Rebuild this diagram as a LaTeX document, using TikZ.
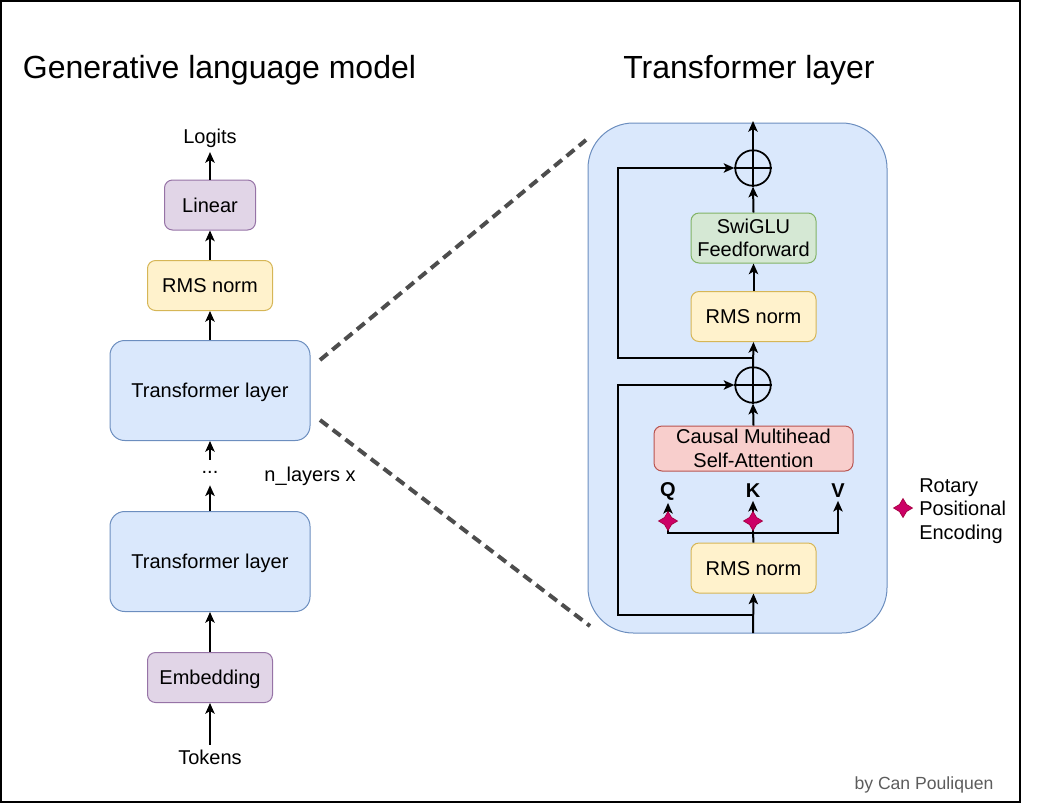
\documentclass[tikz,border=0pt]{standalone}
\usepackage{fontspec}
\setmainfont{Liberation Sans}
\usetikzlibrary{arrows.meta,shapes.geometric,calc}
\definecolor{blueF}{HTML}{DAE8FC}
\definecolor{blueS}{HTML}{6C8EBF}
\definecolor{yelF}{HTML}{FFF2CC}
\definecolor{yelS}{HTML}{D6B656}
\definecolor{purF}{HTML}{E1D5E7}
\definecolor{purS}{HTML}{9673A6}
\definecolor{grnF}{HTML}{D5E8D4}
\definecolor{grnS}{HTML}{82B366}
\definecolor{redF}{HTML}{F8CECC}
\definecolor{redS}{HTML}{B85450}
\definecolor{dashC}{HTML}{4D4D4D}
\definecolor{ropeF}{HTML}{CC0066}
\definecolor{ropeS}{HTML}{A50040}
\definecolor{authC}{HTML}{5C5C5C}
\begin{document}
\begin{tikzpicture}[x=0.75pt,y=-0.75pt,
  txt/.style={font=\fontsize{15}{17.6}\selectfont},
  ttl/.style={font=\fontsize{24}{28}\selectfont},
  box/.style={draw, line width=0.75pt, rounded corners=6pt, inner sep=0pt, align=center,
    font=\fontsize{15}{17.6}\selectfont},
  one/.style={text height=13.5pt, text depth=2.76pt},
  sz/.style 2 args={minimum width=#1*0.75pt, minimum height=#2*0.75pt},
  blu/.style={fill=blueF, draw=blueS},
  yel/.style={fill=yelF, draw=yelS},
  pur/.style={fill=purF, draw=purS},
  grn/.style={fill=grnF, draw=grnS},
  red/.style={fill=redF, draw=redS},
  arr/.style={line width=1.5pt, -{Stealth[length=8pt,width=7pt,inset=2pt]}},
  ln/.style={line width=1.5pt},
  dsh/.style={draw=dashC, line width=3pt, dash pattern=on 7.5pt off 4.5pt},
  plusnode/.style={circle, draw, line width=1.3pt, minimum size=35.5*0.75pt, inner sep=0pt},
  qkv/.style={font=\fontsize{15}{17.6}\selectfont\bfseries, inner sep=2pt},
  rope/.style={star, star points=4, star point ratio=1.9, minimum size=19*0.75pt, inner sep=0pt,
    fill=ropeF, draw=ropeS, line width=0.5pt}
]
\useasboundingbox (0,0) rectangle (1041,804);
\draw[line width=1pt] (1,1) rectangle (1020,802);

% titles
\node[ttl] (t1) at (219.5,70) {Generative language model};
\node[ttl] (t2) at (749,70) {Transformer layer};

% left column
\node[txt] (logits) at (210,138) {Logits};
\node[box,one,pur,sz={91}{50}] (lin) at (210,205) {Linear};
\node[box,one,yel,sz={125}{50}] (rmsA) at (210,285.5) {RMS norm};
\node[box,one,blu,sz={200}{100},rounded corners=11pt] (tlA) at (210,390.5) {Transformer layer};
\node[txt,inner ysep=8.6pt] (dots) at (210,472.5) {...};
\node[txt] (nl) at (310,476) {n\_layers x};
\node[box,one,blu,sz={200}{100},rounded corners=11pt] (tlB) at (210,561.5) {Transformer layer};
\node[box,one,pur,sz={125}{50}] (emb) at (210,677.5) {Embedding};
\node[txt] (tok) at (210,757) {Tokens};

\draw[arr] (tok.north) -- (emb.south);
\draw[arr] (emb.north) -- (tlB.south);
\draw[arr] (tlB.north) -- (dots.south);
\draw[arr] (dots.north) -- (tlA.south);
\draw[arr] (tlA.north) -- (rmsA.south);
\draw[arr] (rmsA.north) -- (lin.south);
\draw[arr] (lin.north) -- (logits.south);

% right: transformer layer detail
\node[fill=blueF, draw=blueS, line width=0.75pt, rounded corners=34pt,
  minimum width=299*0.75pt, minimum height=510*0.75pt, inner sep=0pt] (big) at (737.5,378) {};

\node[plusnode] (p1) at (753,168) {};
\node[box,grn,sz={125}{50}] (swi) at (753.5,238) {SwiGLU\\Feedforward};
\node[box,one,yel,sz={125}{50}] (rmsB) at (753.5,316.5) {RMS norm};
\node[plusnode] (p2) at (753,385) {};
\node[box,red,sz={199}{45}] (attn) at (753.5,448.5) {Causal Multihead\\Self-Attention};
\node[qkv] (Q) at (668,491) {Q};
\node[qkv] (K) at (753,491) {K};
\node[qkv] (V) at (838,491) {V};
\node[box,one,yel,sz={125}{50}] (rmsC) at (753.5,568) {RMS norm};

\coordinate (lx) at (618,400);
\coordinate (j2) at (753,358);
\coordinate (j1) at (753,615);
\coordinate (split) at (753,533);
\coordinate (inb) at (753,633);
\coordinate (outt) at (753,121);

\draw[line width=0.9pt] (p1.west) -- (p1.east) (p1.north) -- (p1.south);
\draw[line width=0.9pt] (p2.west) -- (p2.east) (p2.north) -- (p2.south);

\draw[arr] (inb) -- (rmsC.south);
\draw[arr] (j1) -- (j1 -| lx) |- (p2.west);
\draw[ln] (rmsC.north) -- (split);
\draw[arr] (split) -| (Q.south);
\draw[arr] (split) -- (K.south);
\draw[arr] (split) -| (V.south);
\draw[arr] (attn.north) -- (p2.south);
\draw[arr] (p2.north) -- (rmsB.south);
\draw[arr] (j2) -- (j2 -| lx) |- (p1.west);
\draw[arr] (rmsB.north) -- (swi.south);
\draw[arr] (swi.north) -- (p1.south);
\draw[arr] (p1.north) -- (outt);

\node[rope] (s1) at (668,521) {};
\node[rope] (s2) at (753,521) {};

% legend
\node[rope] (s3) at (903,508) {};
\node[txt, anchor=west, align=left, inner sep=0pt] (leg) at (919,511) {Rotary\\Positional\\Encoding};

% zoom lines
\coordinate (d1a) at (320,360);
\coordinate (d1b) at (586,140);
\coordinate (d2a) at (320,420);
\coordinate (d2b) at (590,626);
\draw[dsh] (d1a) -- (d1b);
\draw[dsh] (d2a) -- (d2b);

% author
\node[font=\fontsize{13.2}{15}\selectfont, text=authC] (auth) at (924,785) {by Can Pouliquen};
\end{tikzpicture}
\end{document}
